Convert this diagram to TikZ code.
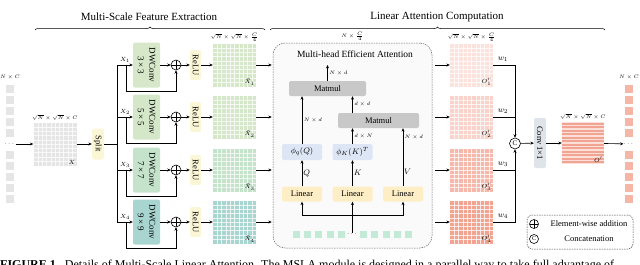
\documentclass[tikz,border=0pt]{standalone}
\usepackage{fontspec}
\setmainfont{Liberation Serif}
\usepackage{amsmath}
\usepackage{tikz}
\usetikzlibrary{arrows.meta, positioning, calc, decorations.pathreplacing}
\definecolor{Ink}    {HTML}{222222}
\definecolor{Gray}   {HTML}{E5E5E5}
\definecolor{Yellow} {HTML}{FBF6D6}
\definecolor{Orange} {HTML}{FDEEC6}
\definecolor{Blue}   {HTML}{DCE6F5}
\definecolor{Matgray}{HTML}{C8C8C8}
\definecolor{Mint}   {HTML}{C3EAD7}
\definecolor{Slate}  {HTML}{DFE4EA}
\definecolor{GreenA} {HTML}{D7E8CA}
\definecolor{GreenB} {HTML}{D4E7C8}
\definecolor{GreenC} {HTML}{C5E2CB}
\definecolor{Teal}   {HTML}{A8D5D0}
\definecolor{PinkA}  {HTML}{FBE2DC}
\definecolor{PinkB}  {HTML}{F9D2C9}
\definecolor{PinkC}  {HTML}{F5B8AA}
\definecolor{PinkD}  {HTML}{F2A492}
\definecolor{Salmon} {HTML}{F6B6A7}
\tikzset{
  vblk/.style={rounded corners=2pt, rotate=-90, align=center, inner sep=0pt,
               font=\fontsize{8.5}{11}\selectfont},
  hblk/.style={rounded corners=2pt, align=center, inner sep=0pt,
               font=\fontsize{8.5}{10}\selectfont},
  fmap/.style={minimum size=43pt, inner sep=0pt, fill=#1,
               path picture={\foreach \g in {1,...,9}{
                 \draw[white, opacity=0.75, line width=0.3pt] ([xshift=\g*4.3pt]path picture bounding box.south west) -- ++(0pt,43pt);
                 \draw[white, opacity=0.75, line width=0.3pt] ([yshift=\g*4.3pt]path picture bounding box.south west) -- ++(43pt,0pt);}}},
  tok/.style={minimum size=8pt, inner sep=0pt, fill=#1},
  addop/.style={circle, draw, line width=0.6pt, minimum size=10pt, inner sep=0pt,
                path picture={\draw[line width=0.6pt] (path picture bounding box.north) -- (path picture bounding box.south)
                  (path picture bounding box.west) -- (path picture bounding box.east);}},
  catop/.style={circle, draw, line width=0.6pt, minimum size=11pt, inner sep=0pt, font=\fontsize{7}{7}\selectfont},
  dimlbl/.style={font=\fontsize{4.5}{5}\selectfont, inner sep=0.5pt},
  tag/.style={font=\fontsize{6.5}{6.5}\selectfont, inner sep=0.5pt},
  sym/.style={font=\fontsize{8}{8}\selectfont, inner sep=1pt},
  ttl/.style={font=\fontsize{11}{13}\selectfont},
  arr/.style={-{Stealth[length=3.4pt,width=3pt]}, line width=0.6pt},
  wire/.style={line width=0.6pt}
}

\begin{document}
\begin{tikzpicture}[x=1pt, y=-1pt]
  \useasboundingbox (0,0) rectangle (640,265);
  \clip (0,0) rectangle (640,265);
  % titles
  \node[ttl] (T1) at (149,17) {Multi-Scale Feature Extraction};
  \node[ttl] (T2) at (437,17) {Linear Attention Computation};
  \draw[decorate, decoration={brace, amplitude=3pt}, line width=0.5pt] (35,30) -- (265,30);
  \draw[decorate, decoration={brace, amplitude=3pt}, line width=0.5pt] (270,30) -- (605,30);
  % input tokens and X
  \foreach \k in {0,...,10}{
    \ifnum\k=5 \node[font=\fontsize{6}{6}\selectfont, inner sep=0pt] (indots) at (10,144) {$\cdots$};
    \else \node[tok=Gray] (in\k) at (10,89+11*\k) {}; \fi
  }
  \node[dimlbl] at (10,77) {$N\times C$};
  \node[fmap=Gray] (X) at (55,144) {};
  \node[dimlbl, above=1.5pt of X] {$\sqrt{N}\times\sqrt{N}\times C$};
  \node[tag, anchor=south east] at ([shift={(-1pt,1pt)}]X.south east) {$X$};
  \draw[arr] (indots) -- (X);
  \node[vblk, fill=Yellow, minimum width=31pt, minimum height=12pt] (S) at (98,144) {Split};
  \draw[arr] (X) -- (S);
  \coordinate (trunk) at (117,144);
  \draw[wire] (S) -- (trunk);
  % four branches
  \foreach \i/\y/\c/\k in {1/65/GreenA/3, 2/117/GreenB/5, 3/170/GreenC/7, 4/222/Teal/9}{
    \coordinate (b\i) at (117,\y);
    \coordinate (r\i) at (126,\y);
    \node[vblk, fill=\c, minimum width=45pt, minimum height=27pt, font=\fontsize{9}{11.5}\selectfont]
      (DW\i) at (146.5,\y) {DWConv\\\k\,×\,\k};
    \node[addop] (A\i) at (176,\y) {};
    \node[vblk, fill=Yellow, minimum width=30pt, minimum height=11pt] (R\i) at (195.5,\y) {ReLU};
    \node[fmap=\c] (Xt\i) at (234.5,\y) {};
    \node[tag, anchor=south east] at ([shift={(-1pt,1pt)}]Xt\i.south east) {$\tilde{X}_\i$};
    \node[tag] at (125,\y-5) {$X_\i$};
    \draw[arr] (b\i) -- (DW\i);
    \draw[arr] (DW\i) -- (A\i);
    \draw[arr] (A\i) -- (R\i);
    \draw[arr] (R\i) -- (Xt\i);
    \draw[arr] (r\i) -- ++(0,26) -| (A\i);
  }
  \draw[wire] (b1) -- (b4);
  \node[dimlbl, above=1.5pt of Xt1] {$\sqrt{N}\times\sqrt{N}\times\frac{C}{4}$};
  % multi-head efficient attention
  \node[draw=black!60, dash pattern=on 1.5pt off 1pt, rounded corners=12pt, fill=black!2,
        line width=0.5pt, minimum width=159pt, minimum height=205pt] (mea) at (352.5,145.5) {};
  \node[font=\fontsize{9.5}{11}\selectfont] (meat) at (355,54) {Multi-head Efficient Attention};
  \node[dimlbl, above=2pt of mea] {$N\times\frac{C}{4}$};
  \foreach \i/\x in {1/302, 2/352.5, 3/403}{
    \node[hblk, fill=Orange, minimum width=40pt, minimum height=15pt] (L\i) at (\x,194) {Linear};
  }
  \node[hblk, fill=Blue, minimum width=40pt, minimum height=16pt] (Pq) at (302,152) {$\phi_q(Q)$};
  \node[hblk, fill=Blue, minimum width=40pt, minimum height=16pt] (Pk) at (352.5,152) {$\phi_K(K)^T$};
  \node[hblk, fill=Matgray, minimum width=77pt, minimum height=15pt] (M1) at (327.5,88.5) {Matmul};
  \node[hblk, fill=Matgray, minimum width=81pt, minimum height=15pt] (M2) at (378.5,120.5) {Matmul};
  \coordinate (mout) at (327.5,65);
  \draw[arr] (L1) -- node[sym, right] {$Q$} (Pq);
  \draw[arr] (L2) -- node[sym, right] {$K$} (Pk);
  \draw[arr] (L3) -- (L3 |- M2.south);
  \node[sym, right] at (403,172) {$V$};
  \node[dimlbl, right=1pt] at (403,137) {$N\times d$};
  \draw[arr] (Pq) -- node[dimlbl, right=1pt] {$N\times d$} (Pq |- M1.south);
  \draw[arr] (Pk) -- node[dimlbl, right=1pt] {$d\times N$} (Pk |- M2.south);
  \draw[arr] (M2.north -| Pk) -- node[dimlbl, right=1pt] {$d\times d$} (M1.south -| Pk);
  \draw[arr] (M1) -- node[dimlbl, right=1pt] {$N\times d$} (mout);
  \foreach \k in {0,...,10}{
    \ifnum\k=5 \node[font=\fontsize{6}{6}\selectfont, inner sep=0pt] (tkd) at (352.5,234.5) {$\cdots$};
    \else \node[tok=Mint, minimum size=7pt] (tk\k) at (296.5+11.2*\k,234.5) {}; \fi
  }
  \coordinate (dist) at (352.5,215);
  \draw[arr] (tkd) -- (L2);
  \draw[arr] (dist) -| (L1);
  \draw[arr] (dist) -| (L3);
  % per-scale outputs
  \foreach \i/\y/\c in {1/65/PinkA, 2/117/PinkB, 3/170/PinkC, 4/222/PinkD}{
    \node[fmap=\c] (O\i) at (471.5,\y) {};
    \node[tag, anchor=south east] at ([shift={(-1pt,1pt)}]O\i.south east) {$O^r_\i$};
    \node[sym] at (503,\y-6) {$w_\i$};
    \draw[arr, shorten >=1pt] (Xt\i) -- (Xt\i -| mea.west);
    \draw[arr, shorten <=3pt] (O\i -| mea.east) -- (O\i);
  }
  \node[dimlbl, above=1.5pt of O1] {$\sqrt{N}\times\sqrt{N}\times\frac{C}{4}$};
  \node[catop] (cat) at (515,143.5) {C};
  \draw[arr] (O1) -| (cat);
  \draw[wire] (O2) -- (O2 -| cat);
  \draw[wire] (O3) -- (O3 -| cat);
  \draw[arr] (O4) -| (cat);
  \node[vblk, fill=Slate, minimum width=50pt, minimum height=12pt] (conv) at (540,143) {Conv 1×1};
  \draw[arr] (cat) -- (conv);
  \node[minimum size=42pt, inner sep=0pt, fill=PinkA!80!PinkB,
        path picture={\foreach \s in {0,...,11}{
          \fill[PinkD] ([yshift=-\s*3.5pt-0.8pt]path picture bounding box.north west) rectangle ++(42pt,-1.8pt);}}]
        (Oo) at (583,143) {};
  \node[tag, anchor=south east] at ([shift={(-1pt,1pt)}]Oo.south east) {$O'$};
  \node[dimlbl, above=1.5pt of Oo] {$\sqrt{N}\times\sqrt{N}\times C$};
  \draw[arr] (conv) -- (Oo);
  \foreach \k in {0,...,10}{
    \ifnum\k=5 \node[font=\fontsize{6}{6}\selectfont, inner sep=0pt] (outdots) at (629,144) {$\cdots$};
    \else \node[tok=Salmon] (out\k) at (629,89+11*\k) {}; \fi
  }
  \node[dimlbl] at (629,77) {$N\times C$};
  \draw[arr] (Oo) -- (outdots);
  % legend
  \node[draw=black!75, dash pattern=on 1.5pt off 1pt, rounded corners=5pt, line width=0.5pt,
        minimum width=106pt, minimum height=34pt] (legend) at (580,232) {};
  \node[addop, minimum size=9pt] (lgA) at (534,224) {};
  \node[font=\fontsize{8.5}{10}\selectfont] (lgAt) at (589,224) {Element-wise addition};
  \node[catop, minimum size=9pt, font=\fontsize{6}{6}\selectfont] (lgC) at (534,239) {C};
  \node[font=\fontsize{8.5}{10}\selectfont] (lgCt) at (589,239) {Concatenation};
  % caption, cut by the frame
  \node[anchor=north west, inner sep=0pt, font=\fontsize{12}{14}\selectfont] (cap) at (0,260)
    {\textbf{FIGURE 1.}\enspace Details of Multi-Scale Linear Attention. The MSLA module is designed in a parallel way to take full advantage of};
\end{tikzpicture}
\end{document}
